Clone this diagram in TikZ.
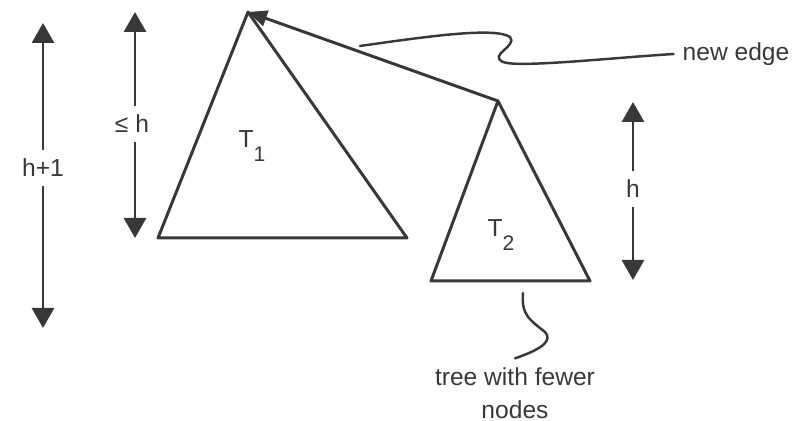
\documentclass[tikz,border=0pt]{standalone}
\usepackage{fontspec}
\setmainfont{Liberation Sans}
\usetikzlibrary{arrows.meta,positioning}
\definecolor{SketchInk}{HTML}{383838}

\begin{document}
\begin{tikzpicture}[x=0.02cm,y=-0.02cm,
  txt/.style={font=\fontsize{14}{18.7}\selectfont,text=SketchInk,inner sep=5pt,align=center},
  treeline/.style={draw=SketchInk,line width=1.7pt,line join=round},
  newedge/.style={-{Triangle[length=3.8mm,width=3.2mm]},draw=SketchInk,line width=1.7pt},
  dim/.style={-{Triangle[length=4mm,width=4.4mm]},draw=SketchInk,line width=1.6pt},
  squiggle/.style={draw=SketchInk,line width=1.4pt,line cap=round}
]
\useasboundingbox (0,0) rectangle (809,421);
% the two trees
\coordinate (topA) at (248,12);
\coordinate (leftA) at (158,238);
\coordinate (rightA) at (407,238);
\coordinate (topB) at (498,101);
\coordinate (leftB) at (431,281);
\coordinate (rightB) at (590,281);
\draw[treeline] (leftA) -- (topA) -- (rightA) -- cycle;
\draw[treeline] (leftB) -- (topB) -- (rightB) -- cycle;
\draw[newedge] (topB) -- (topA);
\node[txt] (tone) at (252,146) {T\raisebox{-8pt}{\fontsize{12}{12}\selectfont 1}};
\node[txt] (ttwo) at (501,235) {T\raisebox{-8pt}{\fontsize{12}{12}\selectfont 2}};
% heights
\node[txt] (hplus) at (43,168) {h+1};
\coordinate (hplusTop) at (43,23);
\coordinate (hplusBot) at (43,328);
\draw[dim] (hplus) -- (hplusTop);
\draw[dim] (hplus) -- (hplusBot);
\node[txt] (hle) at (132,124) {≤ h};
\coordinate (hleTop) at (135,12);
\coordinate (hleBot) at (135,238);
\draw[dim] (hle.north -| hleTop) -- (hleTop);
\draw[dim] (hle.south -| hleBot) -- (hleBot);
\node[txt] (hh) at (633,189) {h};
\coordinate (hhTop) at (633,102);
\coordinate (hhBot) at (633,280);
\draw[dim] (hh) -- (hhTop);
\draw[dim] (hh) -- (hhBot);
% notes
\node[txt] (newlbl) at (736,54) {new edge};
\coordinate (newStart) at (360,46);
\draw[squiggle] (newStart) .. controls (430,36) and (495,27) .. (510,37)
  .. controls (518,46) and (488,55) .. (503,62)
  .. controls (518,68) and (610,58) .. (newlbl.west);
\node[txt] (fewer) at (515,393) {tree with fewer\\nodes};
\coordinate (fewStart) at (523,293);
\draw[squiggle] (fewStart) .. controls (521,315) and (530,320) .. (545,332)
  .. controls (552,340) and (545,348) .. (fewer.north);
\end{tikzpicture}
\end{document}
